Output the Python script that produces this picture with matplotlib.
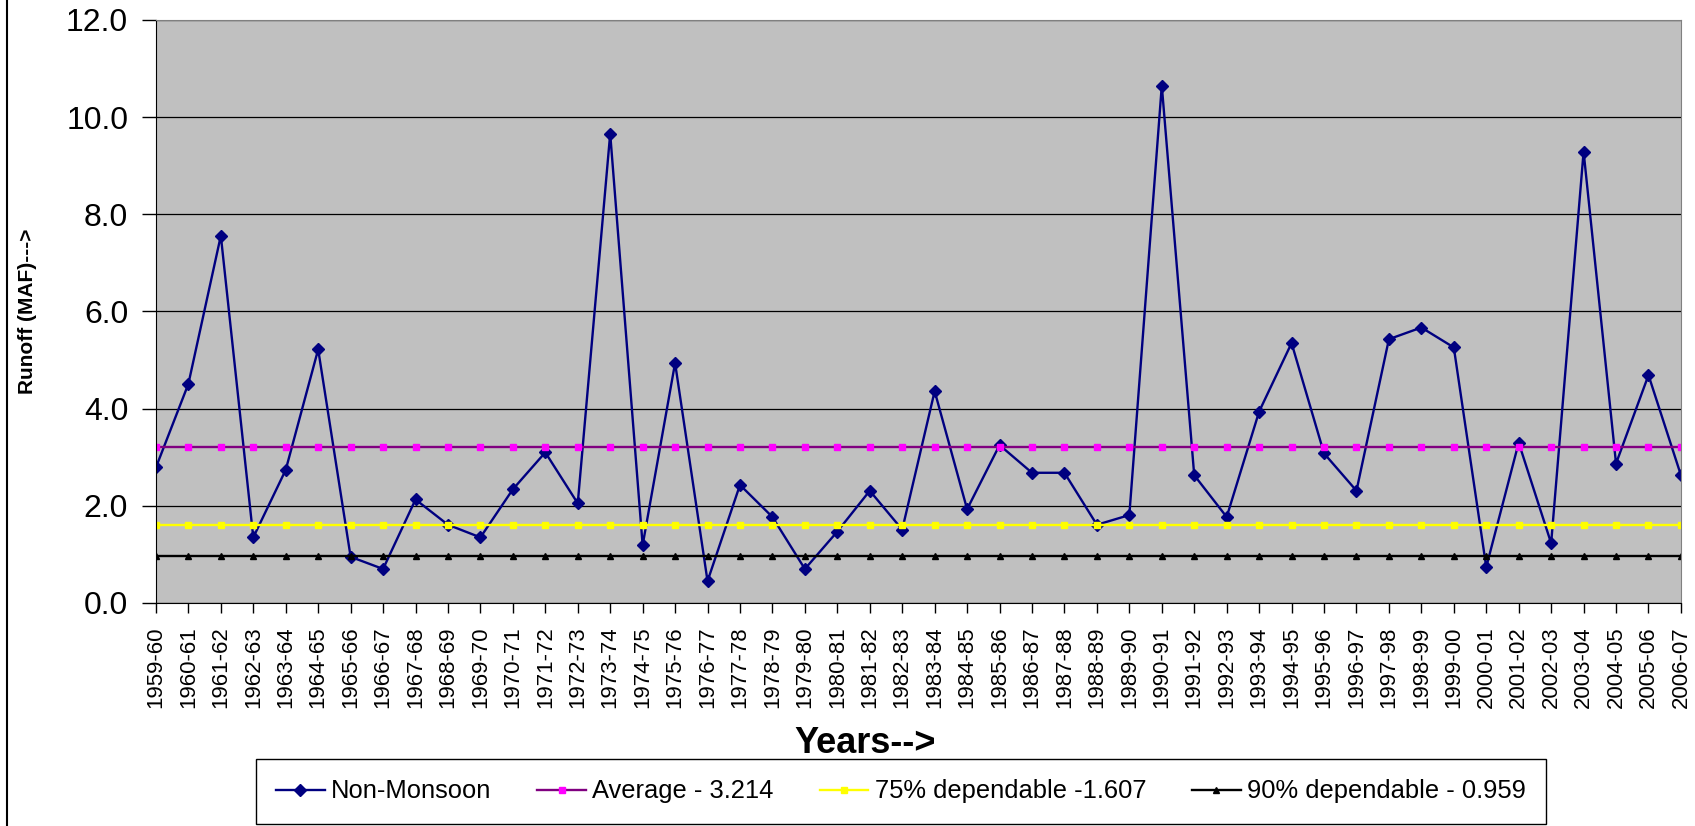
"""Non-monsoon runoff series with average and dependable flow lines."""

import matplotlib

matplotlib.use("Agg")
from matplotlib import font_manager
from matplotlib import pyplot as plt
from matplotlib.lines import Line2D
from matplotlib.ticker import FormatStrFormatter, MultipleLocator

plt.rcParams["font.family"] = ["Liberation Sans", "DejaVu Sans"]

YEARS = [
    "1959-60", "1960-61", "1961-62", "1962-63", "1963-64", "1964-65",
    "1965-66", "1966-67", "1967-68", "1968-69", "1969-70", "1970-71",
    "1971-72", "1972-73", "1973-74", "1974-75", "1975-76", "1976-77",
    "1977-78", "1978-79", "1979-80", "1980-81", "1981-82", "1982-83",
    "1983-84", "1984-85", "1985-86", "1986-87", "1987-88", "1988-89",
    "1989-90", "1990-91", "1991-92", "1992-93", "1993-94", "1994-95",
    "1995-96", "1996-97", "1997-98", "1998-99", "1999-00", "2000-01",
    "2001-02", "2002-03", "2003-04", "2004-05", "2005-06", "2006-07",
]
NON_MONSOON_MAF = [
    2.79, 4.51, 7.56, 1.35, 2.74, 5.22, 0.95, 0.70, 2.13, 1.61, 1.35, 2.34,
    3.10, 2.05, 9.66, 1.19, 4.94, 0.45, 2.43, 1.77, 0.70, 1.47, 2.31, 1.51,
    4.36, 1.93, 3.25, 2.68, 2.68, 1.61, 1.81, 10.65, 2.63, 1.77, 3.94, 5.35,
    3.08, 2.31, 5.43, 5.67, 5.26, 0.74, 3.30, 1.23, 9.29, 2.87, 4.69, 2.63,
]
AVERAGE_MAF = 3.214
DEPENDABLE_75_MAF = 1.607
DEPENDABLE_90_MAF = 0.959

# the rotated texts look condensed in the original; use a narrow face if present
installed = {f.name for f in font_manager.fontManager.ttflist}
if "Liberation Sans Narrow" in installed:
    narrow, year_size, ylabel_size = "Liberation Sans Narrow", 18.5, 17
else:
    narrow, year_size, ylabel_size = "Liberation Sans", 16, 15

n = len(YEARS)
x = list(range(n))

fig = plt.figure(figsize=(16.95, 8.26), dpi=100)
ax = fig.add_axes([0.0920, 0.2700, 0.8997, 0.7058])
ax.set_facecolor("#C0C0C0")

ax.plot(x, NON_MONSOON_MAF, color="#000080", lw=1.7, marker="D", ms=6.5,
        label="Non-Monsoon")
ax.plot(x, [AVERAGE_MAF] * n, color="#800080", lw=1.7, marker="s", ms=4.5,
        mfc="#FF00FF", mec="#FF00FF", label=f"Average - {AVERAGE_MAF}")
ax.plot(x, [DEPENDABLE_75_MAF] * n, color="#FFFF00", lw=1.7, marker="s", ms=4.5,
        label=f"75% dependable -{DEPENDABLE_75_MAF}")
ax.plot(x, [DEPENDABLE_90_MAF] * n, color="black", lw=1.7, marker="^", ms=4,
        label=f"90% dependable - {DEPENDABLE_90_MAF}")

ax.set_xlim(0, n - 1)
ax.set_ylim(0, 12)
ax.yaxis.set_major_locator(MultipleLocator(2))
ax.yaxis.set_major_formatter(FormatStrFormatter("%.1f"))
ax.grid(axis="y", color="black", lw=0.9)
ax.set_axisbelow(True)

ax.set_xticks(x)
ax.set_xticklabels(YEARS, rotation=90, fontsize=year_size, family=narrow)
ax.tick_params(axis="x", direction="out", length=7, width=1, pad=10)
ax.tick_params(axis="y", direction="out", length=10, width=1, pad=10, labelsize=23)

for side in ("top", "right"):
    ax.spines[side].set_color("#808080")
for side in ("left", "bottom"):
    ax.spines[side].set_color("black")

ax.set_ylabel("Runoff (MAF)--->", fontsize=ylabel_size, fontweight="bold",
              family=narrow)
ax.yaxis.set_label_coords(-0.078, 0.5)
ax.set_xlabel("Years-->", fontsize=26, fontweight="bold")
ax.xaxis.set_label_coords(0.465, -0.211)

leg = fig.legend(loc="center", bbox_to_anchor=(0.5316, 0.0418), ncol=4,
                 fontsize=18.4, frameon=True, fancybox=False, framealpha=1,
                 edgecolor="black", handlelength=1.9, handletextpad=0.25,
                 columnspacing=1.8, borderpad=0.8)
leg.get_frame().set_linewidth(1)

# chart frame edge visible on the left
fig.add_artist(Line2D([7 / 1695, 7 / 1695], [0, 1], color="black", lw=1.5,
                      transform=fig.transFigure))

fig.savefig("out.png", dpi=100)
